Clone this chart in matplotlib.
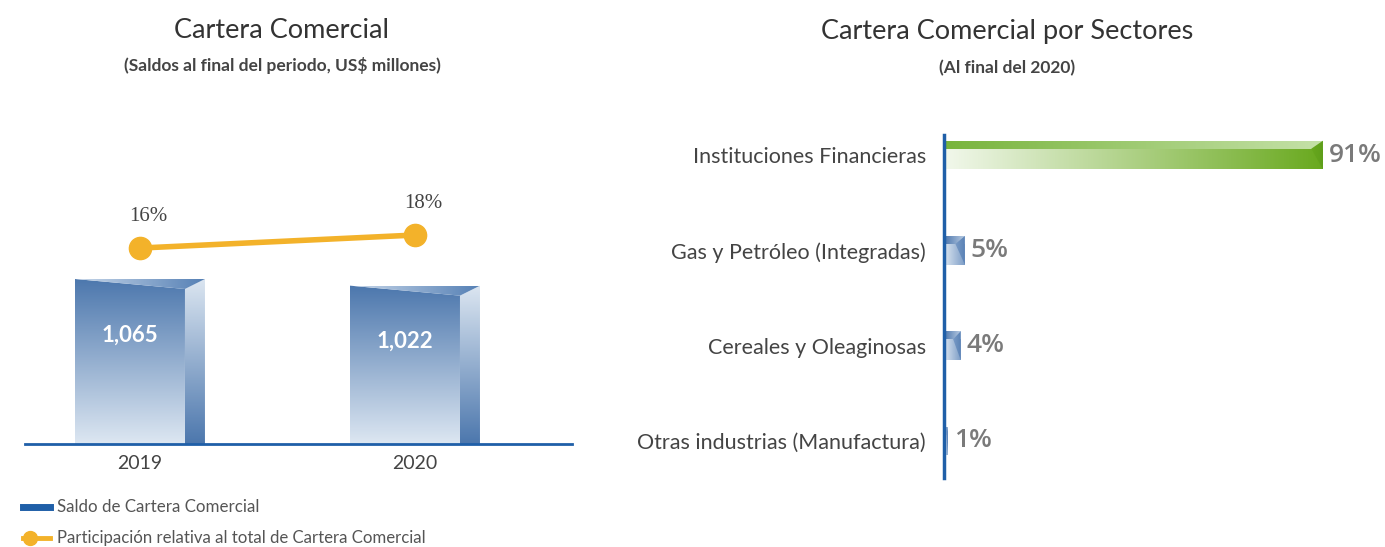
import numpy as np
import matplotlib
matplotlib.use("Agg")
import matplotlib.pyplot as plt
from matplotlib.patches import Polygon
from matplotlib.lines import Line2D
from matplotlib.colors import LinearSegmentedColormap

# datos
anios = ["2019", "2020"]
saldo = [1065, 1022]
participacion = [16, 18]
saldo_labels = ["1,065", "1,022"]

sectores = ["Instituciones Financieras", "Gas y Petróleo (Integradas)",
            "Cereales y Oleaginosas", "Otras industrias (Manufactura)"]
pct_sector = [91, 5, 4, 1]

AZUL = "#1f5fa8"
NARANJA = "#f3b22a"
SANS = ["Lato", "DejaVu Sans"]
SERIF = ["Liberation Serif", "DejaVu Serif"]


def grad_poly(ax, verts, c0, c1, horizontal=False, zorder=2):
    """rellena un poligono con degradado (c0 -> c1, izq->der o abajo->arriba)"""
    poly = Polygon(verts, closed=True, facecolor="none", edgecolor="none")
    ax.add_patch(poly)
    xs = [v[0] for v in verts]
    ys = [v[1] for v in verts]
    cmap = LinearSegmentedColormap.from_list("g", [c0, c1])
    g = np.linspace(0, 1, 256)
    img = g.reshape(1, -1) if horizontal else g.reshape(-1, 1)
    im = ax.imshow(img, cmap=cmap, extent=(min(xs), max(xs), min(ys), max(ys)),
                   origin="lower", aspect="auto", zorder=zorder, interpolation="bilinear")
    im.set_clip_path(poly)
    return im


fig = plt.figure(figsize=(13.85, 5.47), dpi=100)
W, H = 1385.0, 547.0

# ---------------- grafico izquierdo ----------------
ax = fig.add_axes([25 / W, 103 / H, 547 / W, 304 / H])
ymax = 1962
xlim = (-0.418, 1.571)
w_tot, w_front = 0.4727, 0.40
drop = 10 * ymax / 304.0

for i, v in enumerate(saldo):
    x0 = i - w_tot / 2
    x1 = x0 + w_front
    x2 = x0 + w_tot
    # cara frontal
    grad_poly(ax, [(x0, 0), (x0, v), (x1, v - drop), (x1, 0)], "#dde7f2", "#4c77ad")
    # cara lateral
    grad_poly(ax, [(x1, 0), (x1, v - drop), (x2, v), (x2, 0)], "#4c77ad", "#dce6f1")
    # tapa
    grad_poly(ax, [(x0, v), (x2, v), (x1, v - drop)], "#c9d8ea", "#5580b5", horizontal=True)
    ax.text(i - w_tot / 2 + w_front / 2, v - 360, saldo_labels[i], color="white",
            fontsize=16, fontweight="bold", ha="center", va="center", family=SANS, zorder=5)

ax.axhline(0, color=AZUL, lw=2, zorder=4, clip_on=False)
ax.set_xlim(*xlim)
ax.set_ylim(0, ymax)
ax.set_xticks(range(len(anios)))
ax.set_xticklabels(anios, fontsize=14, color="#444444", family=SANS)
ax.tick_params(axis="x", length=0, pad=8)
ax.set_yticks([])
for s in ax.spines.values():
    s.set_visible(False)

ax2 = ax.twinx()
ax2.plot(range(len(anios)), participacion, color=NARANJA, lw=4, marker="o",
         markersize=16, zorder=6)
for i, p in enumerate(participacion):
    ax2.annotate(f"{p}%", (i, p), xytext=(6, 23), textcoords="offset points",
                 ha="center", va="center", fontsize=15, color="#444444", family=SERIF)
ax2.set_ylim(-14.1, 32.6)
ax2.set_xlim(*xlim)
ax2.set_yticks([])
for s in ax2.spines.values():
    s.set_visible(False)

fig.text(282 / W, 1 - 30 / H, "Cartera Comercial", ha="center", va="center",
         fontsize=19.5, color="#333333", family=SANS)
fig.text(282 / W, 1 - 65 / H, "(Saldos al final del periodo, US$ millones)", ha="center",
         va="center", fontsize=12.5, fontweight="bold", color="#444444", family=SANS)

# leyenda
fig.add_artist(Line2D([23 / W, 50 / W], [1 - 507 / H] * 2, color=AZUL, lw=5,
                      transform=fig.transFigure))
fig.text(57 / W, 1 - 507 / H, "Saldo de Cartera Comercial", va="center",
         fontsize=12.2, color="#555555", family=SANS)
fig.add_artist(Line2D([23 / W, 50 / W], [1 - 538 / H] * 2, color=NARANJA, lw=3.5,
                      transform=fig.transFigure))
fig.add_artist(Line2D([30 / W], [1 - 538 / H], color=NARANJA, marker="o", markersize=10,
                      transform=fig.transFigure))
fig.text(57 / W, 1 - 538 / H, "Participación relativa al total de Cartera Comercial",
         va="center", fontsize=12.1, color="#555555", family=SANS)

# ---------------- grafico derecho ----------------
axr = fig.add_axes([944 / W, 69 / H, 441 / W, 343 / H])
h = 0.30
strip = 0.28 * h
for i, v in enumerate(pct_sector):
    top = i - h / 2
    bot = i + h / 2
    mid = top + strip
    bev = min(2.8, 0.45 * v)
    if i == 0:
        cs = ("#78b43c", "#c5e1a8", "#f2f8ec", "#69a91e", "#5e9e1a")
    else:
        cs = ("#4a74ab", "#b9cce3", "#dce6f1", "#7b9cc6", "#5a82b6")
    grad_poly(axr, [(0, top), (v, top), (v, mid), (0, mid)], cs[0], cs[1], horizontal=True)
    grad_poly(axr, [(0, mid), (v, mid), (v, bot), (0, bot)], cs[2], cs[3], horizontal=True)
    grad_poly(axr, [(v - bev, mid), (v, top), (v, bot)], cs[3], cs[4], horizontal=True, zorder=3)
    axr.text(v + 1.4, i, f"{v}%", va="center", ha="left", fontsize=19, fontweight="semibold",
             color="#7a7a7a", family=["Open Sans", "DejaVu Sans"])

axr.set_xlim(0, 105.9)
axr.set_ylim(3.39, -0.21)
axr.set_yticks(range(len(sectores)))
axr.set_yticklabels(sectores, fontsize=15.5, color="#444444", family=SANS)
axr.tick_params(axis="y", length=0, pad=13)
axr.set_xticks([])
for k, s in axr.spines.items():
    s.set_visible(k == "left")
axr.spines["left"].set_color(AZUL)
axr.spines["left"].set_linewidth(2.5)

fig.text(1007 / W, 1 - 32 / H, "Cartera Comercial por Sectores", ha="center", va="center",
         fontsize=19.5, color="#333333", family=SANS)
fig.text(1007 / W, 1 - 68 / H, "(Al final del 2020)", ha="center", va="center",
         fontsize=12.5, fontweight="bold", color="#444444", family=SANS)

plt.savefig("out.png", dpi=100)
